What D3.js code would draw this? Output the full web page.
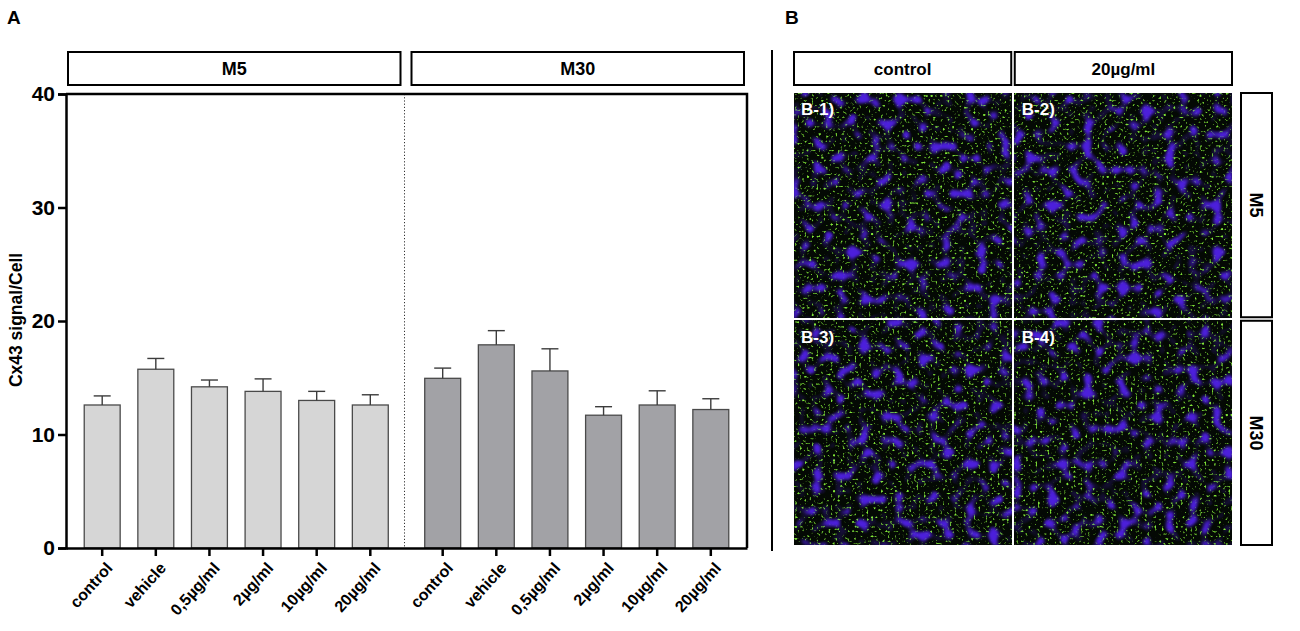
<!DOCTYPE html>
<html>
<head>
<meta charset="utf-8">
<script src="https://d3js.org/d3.v7.min.js"></script>
<style>
  body { margin: 0; background: #fff; }
  svg { font-family: "Liberation Sans", Arial, sans-serif; display: block; }
</style>
</head>
<body>
<svg id="graph"></svg>
<script>
// chart data
var groups = ["M5", "M30"];
var treatments = ["control", "vehicle", "0,5µg/ml", "2µg/ml", "10µg/ml", "20µg/ml"];
var m5Mean = [12.6, 15.75, 14.2, 13.8, 13.0, 12.6];
var m5Sem = [0.8, 0.95, 0.6, 1.1, 0.8, 0.9];
var m30Mean = [14.95, 17.9, 15.6, 11.7, 12.6, 12.2];
var m30Sem = [0.9, 1.25, 1.95, 0.75, 1.25, 0.95];
var yTicks = [0, 10, 20, 30, 40];

// panel B grid
var imageCols = ["control", "20µg/ml"];
var imageRows = ["M5", "M30"];
var imageLabels = ["B-1)", "B-2)", "B-3)", "B-4)"];

var svg = d3.select("#graph")
    .attr("width", 1300)
    .attr("height", 631);

var plot = {left: 66, right: 747, top: 94, bottom: 548};

var data = [];
groups.forEach(function(g, gi) {
  var means = gi === 0 ? m5Mean : m30Mean;
  var sems = gi === 0 ? m5Sem : m30Sem;
  treatments.forEach(function(t, i) {
    data.push({group: g, treatment: t, mean: means[i], sem: sems[i]});
  });
});

var xGroup = d3.scaleBand().domain(groups).range([plot.left, plot.right]);
var x = d3.scaleBand().domain(treatments)
    .range([0, xGroup.bandwidth()])
    .paddingInner(0.33).paddingOuter(0.34);
var y = d3.scaleLinear().domain([0, 40]).range([plot.bottom, plot.top]);
var fill = d3.scaleOrdinal().domain(groups).range(["#d6d6d6", "#a2a2a6"]);

function bx(d) { return xGroup(d.group) + x(d.treatment); }

// panel letters
svg.append("text").attr("x", 7).attr("y", 24)
    .attr("font-size", 19).attr("font-weight", "bold").text("A");
svg.append("text").attr("x", 785).attr("y", 24)
    .attr("font-size", 19).attr("font-weight", "bold").text("B");

// group strips
var strips = svg.selectAll(".strip").data(groups).enter().append("g")
    .attr("class", "strip");
strips.append("rect")
    .attr("x", function(d, i) { return xGroup(d) + (i === 0 ? 2 : 5); })
    .attr("y", 52)
    .attr("width", function(d, i) { return xGroup.bandwidth() - 8; })
    .attr("height", 33)
    .attr("fill", "#fff").attr("stroke", "#000").attr("stroke-width", 2);
strips.append("text")
    .attr("x", function(d, i) { return xGroup(d) + (i === 0 ? 2 : 5) + (xGroup.bandwidth() - 8) / 2; })
    .attr("y", 75)
    .attr("text-anchor", "middle")
    .attr("font-size", 18).attr("font-weight", "bold")
    .text(function(d) { return d; });

// dotted divider between groups
svg.append("line")
    .attr("x1", xGroup("M30") - 2).attr("x2", xGroup("M30") - 2)
    .attr("y1", plot.top).attr("y2", plot.bottom)
    .attr("stroke", "#333").attr("stroke-width", 1)
    .attr("stroke-dasharray", "1.2,2");

// bars
svg.selectAll(".bar").data(data).enter().append("rect")
    .attr("class", "bar")
    .attr("x", bx)
    .attr("y", function(d) { return y(d.mean); })
    .attr("width", x.bandwidth())
    .attr("height", function(d) { return y(0) - y(d.mean); })
    .attr("fill", function(d) { return fill(d.group); })
    .attr("stroke", "#4a4a4a").attr("stroke-width", 1.3);

// error bars (upper half only)
var err = svg.selectAll(".err").data(data).enter().append("g")
    .attr("class", "err")
    .attr("stroke", "#3c3c3c").attr("stroke-width", 1.4);
err.append("line")
    .attr("x1", function(d) { return bx(d) + x.bandwidth() / 2; })
    .attr("x2", function(d) { return bx(d) + x.bandwidth() / 2; })
    .attr("y1", function(d) { return y(d.mean); })
    .attr("y2", function(d) { return y(d.mean + d.sem); });
err.append("line")
    .attr("x1", function(d) { return bx(d) + x.bandwidth() / 2 - 8.5; })
    .attr("x2", function(d) { return bx(d) + x.bandwidth() / 2 + 8.5; })
    .attr("y1", function(d) { return y(d.mean + d.sem); })
    .attr("y2", function(d) { return y(d.mean + d.sem); });

// frame: top and right
svg.append("path")
    .attr("d", "M" + plot.left + "," + plot.top + "H" + plot.right + "V" + plot.bottom)
    .attr("fill", "none").attr("stroke", "#000").attr("stroke-width", 2.5);

// y axis
var yaxis = svg.append("g")
    .attr("transform", "translate(" + plot.left + ",0)")
    .call(d3.axisLeft(y).tickValues(yTicks).tickSize(8).tickPadding(3));
yaxis.select(".domain").attr("stroke-width", 2.5);
yaxis.selectAll(".tick line").attr("stroke-width", 2.5);
yaxis.selectAll(".tick text")
    .attr("font-size", 21).attr("font-weight", "bold").attr("fill", "#000")
    .attr("font-family", "Liberation Sans, Arial, sans-serif");

svg.append("text")
    .attr("transform", "translate(22," + 320 + ") rotate(-90)")
    .attr("text-anchor", "middle")
    .attr("font-size", 17.5).attr("font-weight", "bold")
    .text("Cx43 signal/Cell");

// x axis, one per group
groups.forEach(function(g) {
  var sub = d3.scaleBand().domain(treatments)
      .range([xGroup(g), xGroup(g) + xGroup.bandwidth()])
      .paddingInner(0.33).paddingOuter(0.34);
  var ax = svg.append("g")
      .attr("transform", "translate(0," + plot.bottom + ")")
      .call(d3.axisBottom(sub).tickSize(8).tickSizeOuter(0));
  ax.select(".domain").attr("stroke-width", 2.5);
  ax.selectAll(".tick line").attr("stroke-width", 2.5);
  ax.selectAll(".tick text")
      .attr("font-size", 16).attr("font-weight", "bold").attr("fill", "#000")
      .attr("font-family", "Liberation Sans, Arial, sans-serif")
      .attr("text-anchor", "end")
      .attr("dy", "0.35em")
      .attr("transform", "translate(7,17) rotate(-48)")
      .attr("y", 0).attr("x", 0);
});

// ---- panel B ----
svg.append("line")
    .attr("x1", 772).attr("x2", 772).attr("y1", 50).attr("y2", 551)
    .attr("stroke", "#000").attr("stroke-width", 2);

var gx = d3.scaleBand().domain(imageCols).range([794, 1232]).paddingInner(0.016);
var gy = d3.scaleBand().domain(imageRows).range([93, 545]).paddingInner(0.0155);

var defs = svg.append("defs");
var cells = [];
imageRows.forEach(function(r, ri) {
  imageCols.forEach(function(c, ci) {
    cells.push({row: r, col: c, label: imageLabels[ri * 2 + ci], idx: ri * 2 + ci});
  });
});

// procedural stand-in for the micrographs: blue nuclei + green puncta
cells.forEach(function(d) {
  var f = defs.append("filter").attr("id", "micro" + d.idx)
      .attr("filterUnits", "userSpaceOnUse")
      .attr("x", gx(d.col)).attr("y", gy(d.row))
      .attr("width", gx.bandwidth()).attr("height", gy.bandwidth())
      .attr("color-interpolation-filters", "sRGB");
  f.append("feFlood").attr("flood-color", "#040904").attr("result", "bg");
  // nuclei
  f.append("feTurbulence").attr("type", "fractalNoise").attr("baseFrequency", 0.085)
      .attr("numOctaves", 1).attr("seed", 3 + d.idx * 11).attr("result", "n1");
  f.append("feColorMatrix").attr("in", "n1").attr("type", "matrix")
      .attr("values", "0 0 0 0 0.3  0 0 0 0 0.12  0 0 0 0 0.86  1 0 0 0 0")
      .attr("result", "b0");
  f.append("feComponentTransfer").attr("in", "b0").attr("result", "b1")
      .append("feFuncA").attr("type", "linear").attr("slope", 9).attr("intercept", -5.4);
  f.append("feGaussianBlur").attr("in", "b1").attr("stdDeviation", 1).attr("result", "blue");
  // dim haze of out-of-focus nuclei
  f.append("feComponentTransfer").attr("in", "b0").attr("result", "haze")
      .append("feFuncA").attr("type", "linear").attr("slope", 2).attr("intercept", -0.95);
  // puncta
  f.append("feTurbulence").attr("type", "fractalNoise").attr("baseFrequency", 0.42)
      .attr("numOctaves", 1).attr("seed", 17 + d.idx * 5).attr("result", "n2");
  f.append("feColorMatrix").attr("in", "n2").attr("type", "matrix")
      .attr("values", "0 0 0 0 0.5  0 0 0 0 0.9  0 0 0 0 0.22  0 1 0 0 0")
      .attr("result", "g0");
  f.append("feComponentTransfer").attr("in", "g0").attr("result", "green")
      .append("feFuncA").attr("type", "linear").attr("slope", 6).attr("intercept", -3.55);
  var m = f.append("feMerge");
  m.append("feMergeNode").attr("in", "bg");
  m.append("feMergeNode").attr("in", "haze");
  m.append("feMergeNode").attr("in", "green");
  m.append("feMergeNode").attr("in", "blue");
});

svg.selectAll(".micro").data(cells).enter().append("rect")
    .attr("class", "micro")
    .attr("x", function(d) { return gx(d.col); })
    .attr("y", function(d) { return gy(d.row); })
    .attr("width", gx.bandwidth())
    .attr("height", gy.bandwidth())
    .attr("fill", "#000")
    .attr("filter", function(d) { return "url(#micro" + d.idx + ")"; });

svg.selectAll(".microlabel").data(cells).enter().append("text")
    .attr("x", function(d) { return gx(d.col) + 7; })
    .attr("y", function(d) { return gy(d.row) + 22; })
    .attr("fill", "#fff").attr("font-size", 17).attr("font-weight", "bold")
    .text(function(d) { return d.label; });

// column strips
var colStrip = svg.selectAll(".colstrip").data(imageCols).enter().append("g");
colStrip.append("rect")
    .attr("x", function(d) { return gx(d); }).attr("y", 52)
    .attr("width", gx.bandwidth()).attr("height", 33)
    .attr("fill", "#fff").attr("stroke", "#000").attr("stroke-width", 2);
colStrip.append("text")
    .attr("x", function(d) { return gx(d) + gx.bandwidth() / 2; }).attr("y", 75)
    .attr("text-anchor", "middle").attr("font-size", 17).attr("font-weight", "bold")
    .text(function(d) { return d; });

// row strips
var rowStrip = svg.selectAll(".rowstrip").data(imageRows).enter().append("g");
rowStrip.append("rect")
    .attr("x", 1241).attr("y", function(d) { return gy(d); })
    .attr("width", 31).attr("height", gy.bandwidth())
    .attr("fill", "#fff").attr("stroke", "#000").attr("stroke-width", 2);
rowStrip.append("text")
    .attr("transform", function(d) {
      return "translate(" + 1250 + "," + (gy(d) + gy.bandwidth() / 2) + ") rotate(90)";
    })
    .attr("text-anchor", "middle").attr("font-size", 18).attr("font-weight", "bold")
    .text(function(d) { return d; });
</script>
</body>
</html>
